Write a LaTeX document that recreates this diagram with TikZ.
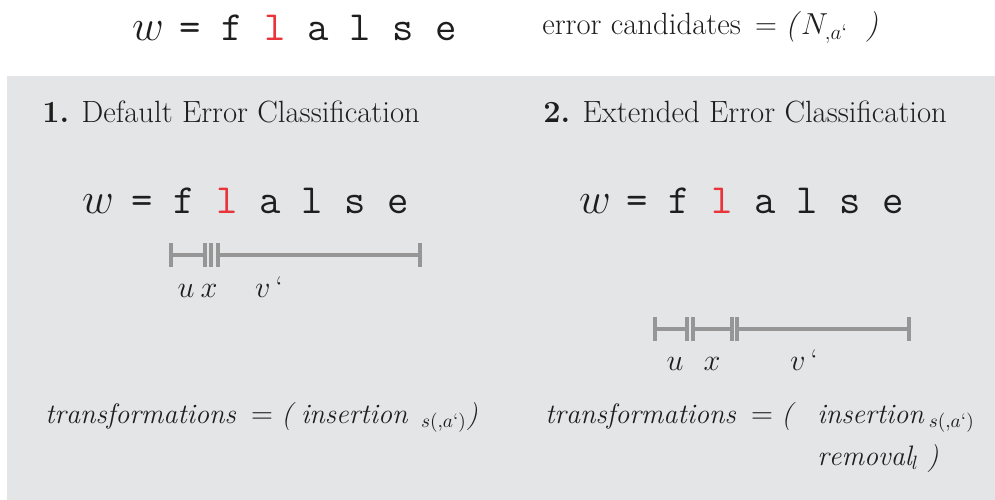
\documentclass[tikz,border=0pt]{standalone}
\usepackage{amsmath}
\usepackage{fontspec}
\usepackage{tikz}
\definecolor{falsered}{RGB}{232,52,58}
\definecolor{panelgray}{RGB}{228,229,231}
\definecolor{bargray}{RGB}{150,150,150}
\definecolor{inkblack}{RGB}{30,30,30}
\tikzset{
    wordvar/.style={anchor=base, inner sep=0pt, text=inkblack, font=\fontsize{26}{30}\selectfont},
    wordmono/.style={anchor=base, inner sep=0pt, text=inkblack,
        font=\fontsize{23.6}{28}\selectfont\ttfamily\addfontfeatures{FakeBold=1.5}},
    heading/.style={anchor=base west, inner sep=0pt, text=inkblack, font=\fontsize{17.5}{21}\selectfont},
    seglabel/.style={anchor=base, inner sep=0pt, text=inkblack, font=\fontsize{17}{20}\selectfont},
    formula/.style={anchor=base west, inner sep=0pt, text=inkblack, font=\fontsize{16}{19}\selectfont},
    barline/.style={draw=bargray, line width=2.3pt}
}
\newcommand{\falseword}{= f \textcolor{falsered}{l} a l s e}
\newcommand{\tickmark}[1]{\draw[barline] ([yshift=6.8pt]#1) -- ([yshift=-6.8pt]#1);}

\begin{document}
\begin{tikzpicture}[x=0.02cm, y=-0.02cm]
    \useasboundingbox (0,0) rectangle (995,500);
    \fill[panelgray] (7,76) rectangle (995,500);

    % ---------- Top row: word and error candidates ----------
    \node[wordvar] (topw) at (148,41) {$w$};
    \node[wordmono] (topword) at (318,41) {\falseword};
    \node[formula, font=\fontsize{17.5}{21}\selectfont] (cand) at (542,35)
        {error candidates $\,=\;$\textit{(}$N_{,a\text{‘}}$\hspace{10pt}\textit{)}};

    % ---------- Left panel: default classification ----------
    \node[heading] (head1) at (42,123) {\textbf{1.} Default Error Classification};
    \node[wordvar] (w1) at (98,214) {$w$};
    \node[wordmono] (word1) at (270,214) {\falseword};

    \coordinate (u1a) at (171,255);
    \coordinate (u1b) at (205,255);
    \coordinate (x1a) at (211,255);
    \coordinate (v1a) at (218,255);
    \coordinate (v1b) at (420,255);
    \draw[barline] (u1a) -- (u1b);
    \draw[barline] (v1a) -- (v1b);
    \foreach \c in {u1a,u1b,x1a,v1a,v1b} {\tickmark{\c}}

    \node[seglabel] (lu1) at (186,297) {$u$};
    \node[seglabel] (lx1) at (209,297) {$x$};
    \node[seglabel] (lv1) at (269,297) {$v$\,‘};

    \node[formula] (trans1) at (45,423)
        {$\mathit{transformations} \:= \textit{(}\ \mathit{insertion}\;\,{}_{s(,a\text{‘})}\textit{)}$};

    % ---------- Right panel: extended classification ----------
    \node[heading] (head2) at (543,123) {\textbf{2.} Extended Error Classification};
    \node[wordvar] (w2) at (595,214) {$w$};
    \node[wordmono] (word2) at (765,214) {\falseword};

    \coordinate (u2a) at (655,329);
    \coordinate (u2b) at (687,329);
    \coordinate (x2a) at (693,329);
    \coordinate (x2b) at (732,329);
    \coordinate (v2a) at (737,329);
    \coordinate (v2b) at (909,329);
    \draw[barline] (u2a) -- (u2b);
    \draw[barline] (x2a) -- (x2b);
    \draw[barline] (v2a) -- (v2b);
    \foreach \c in {u2a,u2b,x2a,x2b,v2a,v2b} {\tickmark{\c}}

    \node[seglabel] (lu2) at (675,370) {$u$};
    \node[seglabel] (lx2) at (712,370) {$x$};
    \node[seglabel] (lv2) at (804,370) {$v$\,‘};

    \node[formula] (trans2) at (545,423) {$\mathit{transformations} \:= \textit{(}$};
    \node[formula] (ins2) at (817,423) {$\mathit{insertion}\,{}_{s(,a\text{‘})}$};
    \node[formula] (rem2) at (817,465) {$\mathit{removal}_{l}\;\textit{)}$};
\end{tikzpicture}
\end{document}
